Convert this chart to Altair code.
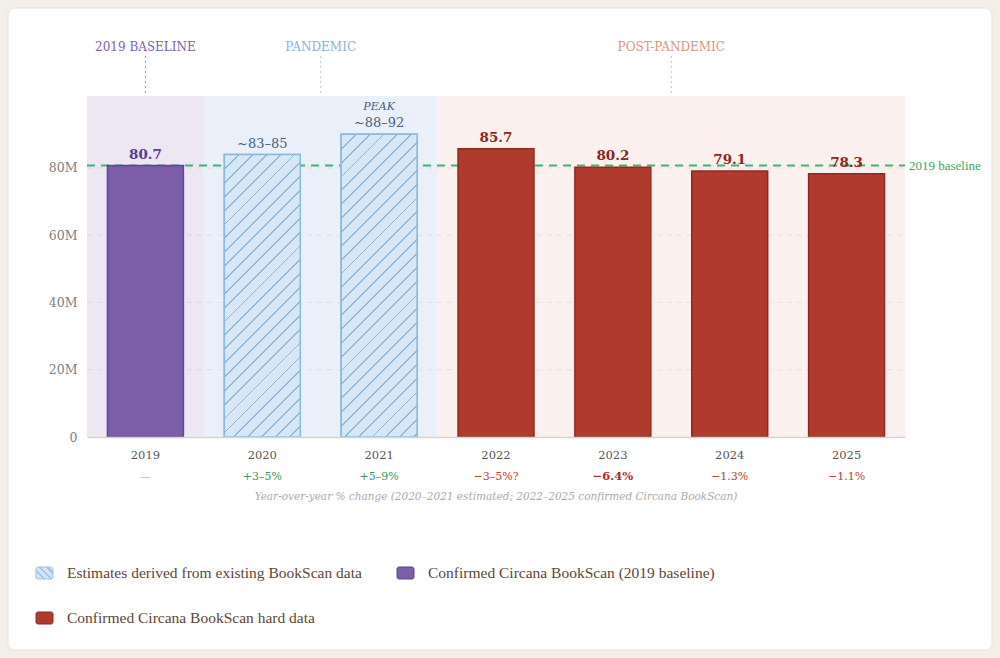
import altair as alt
import pandas as pd

# ---------------- data ----------------
years = ["2019", "2020", "2021", "2022", "2023", "2024", "2025"]
# 2020 and 2021 are drawn at the midpoint of their estimated ranges
units_m = [80.7, 84.0, 90.0, 85.7, 80.2, 79.1, 78.3]
value_labels = ["80.7", "~83–85", "~88–92", "85.7", "80.2", "79.1", "78.3"]
series = ["baseline", "estimate", "estimate", "confirmed", "confirmed", "confirmed", "confirmed"]
yoy_labels = ["—", "+3–5%", "+5–9%", "−3–5%?", "−6.4%", "−1.3%", "−1.1%"]
yoy_kind = ["none", "up", "up", "down", "down_strong", "down", "down"]

phase_names = ["2019 BASELINE", "PANDEMIC", "POST-PANDEMIC"]
phase_first = [0, 1, 3]   # index of first year in phase
phase_end = [1, 3, 7]     # index after last year in phase

baseline_value = 80.7
baseline_text = "2019 baseline"
grid_values = [20, 40, 60, 80]
axis_values = [0, 20, 40, 60, 80]
caption = "Year-over-year % change (2020–2021 estimated; 2022–2025 confirmed Circana BookScan)"

legend_labels = [
    "Estimates derived from existing BookScan data",
    "Confirmed Circana BookScan (2019 baseline)",
    "Confirmed Circana BookScan hard data",
]
legend_series = ["estimate", "baseline", "confirmed"]

# ---------------- styling ----------------
W, H = 818, 341
Y_MAX = 101.4
PAD_INNER = 0.35
SERIF = "DejaVu Serif"
LEGEND_FONT = "Liberation Serif"

fill_of = {"baseline": "#7b5ea7", "estimate": "#d7e7f5", "confirmed": "#b03a2e"}
stroke_of = {"baseline": "#5d4590", "estimate": "#8ab8de", "confirmed": "#8c2b21"}
label_ink = {"baseline": "#5a3d8e", "estimate": "#46607e", "confirmed": "#8a261d"}
yoy_ink = {"none": "#a0a0a0", "up": "#3d9459", "down": "#c0392b", "down_strong": "#b32d22"}
phase_fill = ["#ede7f4", "#e9f0f9", "#fcf0ef"]
phase_ink = ["#7d5fb0", "#8db1d9", "#da9383"]
BASELINE_GREEN = "#3cb46e"

# legend item slots (pixel offsets from the plot's top-left corner)
LEGEND_SLOTS = [(-51, 477), (310, 477), (-51, 522)]
SWATCH_W, SWATCH_H = 17, 12


def stripe_stops(span, spacing, line, base, ink):
    """Hard-edged gradient stops that read as evenly spaced stripes."""
    stops = []
    k = 0
    while k * spacing < span:
        o = k * spacing / span
        e = min((k * spacing + line) / span, 1.0)
        n = min((k + 1) * spacing / span, 1.0)
        stops += [(o, ink), (e, ink), (e, base), (n, base)]
        k += 1
    return [alt.GradientStop(offset=round(o, 5), color=c) for o, c in stops]


def hatch_forward(w, h, spacing=9.8, line=1.3, base=fill_of["estimate"], ink=stroke_of["estimate"]):
    # "/" stripes at 45 degrees inside a w x h box
    r = w / h
    b = (1 + r) / (1 + r * r)
    a = r * b
    span = (w + h) / 2 ** 0.5
    return alt.LinearGradient(gradient="linear", x1=0, y1=0, x2=a, y2=b,
                              stops=stripe_stops(span, spacing, line, base, ink))


def hatch_back(w, h, spacing=5.0, line=2.0, base="#d3e5f5", ink="#9cc2e4"):
    # "\" stripes at 45 degrees inside a w x h box (legend swatch)
    m = (w + h) / (w * w + h * h)
    span = (w + h) / 2 ** 0.5
    return alt.LinearGradient(gradient="linear", x1=0, y1=1, x2=w * m, y2=1 - h * m,
                              stops=stripe_stops(span, spacing, line, base, ink))


# ---------------- tables ----------------
bars = pd.DataFrame({
    "year": years,
    "units": units_m,
    "label": value_labels,
    "series": series,
    "fill": [fill_of[s] for s in series],
    "stroke": [stroke_of[s] for s in series],
    "label_color": [label_ink[s] for s in series],
    "yoy": yoy_labels,
    "yoy_color": [yoy_ink[k] for k in yoy_kind],
    "yoy_bold": [k == "down_strong" for k in yoy_kind],
    "peak": [u == max(units_m) for u in units_m],
})

phases = pd.DataFrame({
    "name": phase_names,
    "p0": phase_first,
    "p1": phase_end,
    "mid": [(a + b) / 2 for a, b in zip(phase_first, phase_end)],
    "fill": phase_fill,
    "ink": phase_ink,
})
grid = pd.DataFrame({"g": grid_values})
base_df = pd.DataFrame({"b": [baseline_value], "t": [baseline_text]})
one_row = pd.DataFrame({"c": [0]})
caption_df = pd.DataFrame({"t": [caption]})

# ---------------- scales / axes ----------------
y_scale = alt.Scale(domain=[0, Y_MAX], nice=False, zero=True)
y_axis = alt.Axis(title=None, values=axis_values, grid=False, ticks=False, domain=False, zindex=2,
                  labelExpr="datum.value == 0 ? '0' : datum.value + 'M'",
                  labelFont=SERIF, labelFontSize=12.5, labelColor="#808080", labelPadding=10)
x_scale = alt.Scale(domain=years, paddingInner=PAD_INNER, paddingOuter=PAD_INNER / 2)
x_axis = alt.Axis(title=None, labelAngle=0, ticks=False, domain=True, domainColor="#d8d2cd",
                  domainWidth=1.5, grid=False, zindex=2, labelFont=SERIF, labelFontSize=11.5,
                  labelColor="#555555", labelPadding=12)
xq = alt.Scale(domain=[0, len(years)], nice=False, zero=False)

X = alt.X("year:N", scale=x_scale, axis=x_axis)


def Yf(field):
    return alt.Y(field, type="quantitative", scale=y_scale, axis=y_axis)


# ---------------- back layer: card, phase bands, grid, baseline ----------------
card = alt.Chart(one_row).mark_rect(fill="white", stroke="#e7e0d5", strokeWidth=1, cornerRadius=7).encode(
    x=alt.value(-79), x2=alt.value(905), y=alt.value(-88), y2=alt.value(554))

bands = alt.Chart(phases).mark_rect().encode(
    x=alt.X("p0:Q", scale=xq, axis=None), x2="p1:Q",
    y=alt.value(0), y2=alt.value(H),
    fill=alt.Fill("fill:N", scale=None))

phase_rules = alt.Chart(phases).mark_rule(strokeDash=[2, 3], strokeWidth=1, opacity=0.7).encode(
    x=alt.X("mid:Q", scale=xq, axis=None), y=alt.value(-40), y2=alt.value(0),
    color=alt.Color("ink:N", scale=None))

phase_text = alt.Chart(phases).mark_text(font=SERIF, fontSize=12, baseline="middle").encode(
    x=alt.X("mid:Q", scale=xq, axis=None), y=alt.value(-49),
    text="name:N", color=alt.Color("ink:N", scale=None))

grid_rules = alt.Chart(grid).mark_rule(color="#000000", opacity=0.07, strokeDash=[5, 5]).encode(
    y=Yf("g"), x=alt.value(0), x2=alt.value(W))

base_rule = alt.Chart(base_df).mark_rule(color=BASELINE_GREEN, strokeWidth=2, strokeDash=[8, 6]).encode(
    y=Yf("b"), x=alt.value(0), x2=alt.value(W))

base_label = alt.Chart(base_df).mark_text(font=LEGEND_FONT, fontSize=13, align="left", baseline="middle",
                                          color="#3aa862").encode(
    y=Yf("b"), x=alt.value(W + 4), text="t:N")

back = alt.layer(card, bands, phase_rules, phase_text, grid_rules, base_rule, base_label)

# ---------------- legend (drawn as marks) ----------------
legend_layers = []
for lab, s, (lx, ly) in zip(legend_labels, legend_series, LEGEND_SLOTS):
    sw_fill = hatch_back(SWATCH_W, SWATCH_H) if s == "estimate" else fill_of[s]
    sw_stroke = "#9cc2e4" if s == "estimate" else stroke_of[s]
    legend_layers.append(
        alt.Chart(one_row).mark_rect(fill=sw_fill, stroke=sw_stroke, strokeWidth=1, cornerRadius=2).encode(
            x=alt.value(lx), x2=alt.value(lx + SWATCH_W),
            y=alt.value(ly - SWATCH_H / 2), y2=alt.value(ly + SWATCH_H / 2)))
    legend_layers.append(
        alt.Chart(one_row).mark_text(font=LEGEND_FONT, fontSize=15.5, color="#5b4636",
                                     align="left", baseline="middle").encode(
            x=alt.value(lx + SWATCH_W + 14), y=alt.value(ly), text=alt.value(lab)))

# ---------------- front layer: bars and labels ----------------
main_bars = alt.Chart(bars).mark_bar(strokeWidth=1.5).encode(
    x=X, y=Yf("units"),
    fill=alt.Fill("fill:N", scale=None),
    stroke=alt.Stroke("stroke:N", scale=None))

# hatched overlays for the estimated years
band_w = W / len(years) * (1 - PAD_INNER)
hatch_layers = []
for yr, u, s in zip(years, units_m, series):
    if s != "estimate":
        continue
    h_px = u * H / Y_MAX
    hatch_layers.append(
        alt.Chart(bars).transform_filter(alt.datum.year == yr).mark_bar(
            fill=hatch_forward(band_w, h_px), stroke=stroke_of["estimate"], strokeWidth=1.5
        ).encode(x=X, y=Yf("units"))
    )

bold_values = alt.Chart(bars).transform_filter(alt.datum.series != "estimate").mark_text(
    font=SERIF, fontSize=13.5, fontWeight="bold", baseline="alphabetic", dy=-7).encode(
    x=X, y=Yf("units"), text="label:N", color=alt.Color("label_color:N", scale=None))

est_values = alt.Chart(bars).transform_filter(alt.datum.series == "estimate").mark_text(
    font=SERIF, fontSize=13, baseline="alphabetic", dy=-7).encode(
    x=X, y=Yf("units"), text="label:N", color=alt.Color("label_color:N", scale=None))

peak_tag = alt.Chart(bars).transform_filter(alt.datum.peak).mark_text(
    font=SERIF, fontSize=11, fontStyle="italic", baseline="alphabetic", dy=-24, color="#46607e").encode(
    x=X, y=Yf("units"), text=alt.value("PEAK"))

yoy_regular = alt.Chart(bars).transform_filter("!datum.yoy_bold").mark_text(
    font=SERIF, fontSize=11, baseline="middle").encode(
    x=X, y=alt.value(381), text="yoy:N", color=alt.Color("yoy_color:N", scale=None))

yoy_strong = alt.Chart(bars).transform_filter("datum.yoy_bold").mark_text(
    font=SERIF, fontSize=11.5, fontWeight="bold", baseline="middle").encode(
    x=X, y=alt.value(381), text="yoy:N", color=alt.Color("yoy_color:N", scale=None))

caption_text = alt.Chart(caption_df).mark_text(
    font=SERIF, fontSize=10.5, fontStyle="italic", color="#aaaaaa", baseline="middle").encode(
    x=alt.value(W / 2), y=alt.value(401), text="t:N")

front = alt.layer(main_bars, *hatch_layers, bold_values, est_values, peak_tag,
                  yoy_regular, yoy_strong, caption_text)

chart = alt.layer(back, front, *legend_layers).resolve_scale(x="independent").properties(
    width=W, height=H,
    padding={"left": 87, "top": 96, "right": 95, "bottom": 221},
    autosize=alt.AutoSizeParams(type="none"),
    background="#f3efe8",
).configure_view(stroke=None)

chart.save("out.html", embed_options={"renderer": "svg", "actions": False})
